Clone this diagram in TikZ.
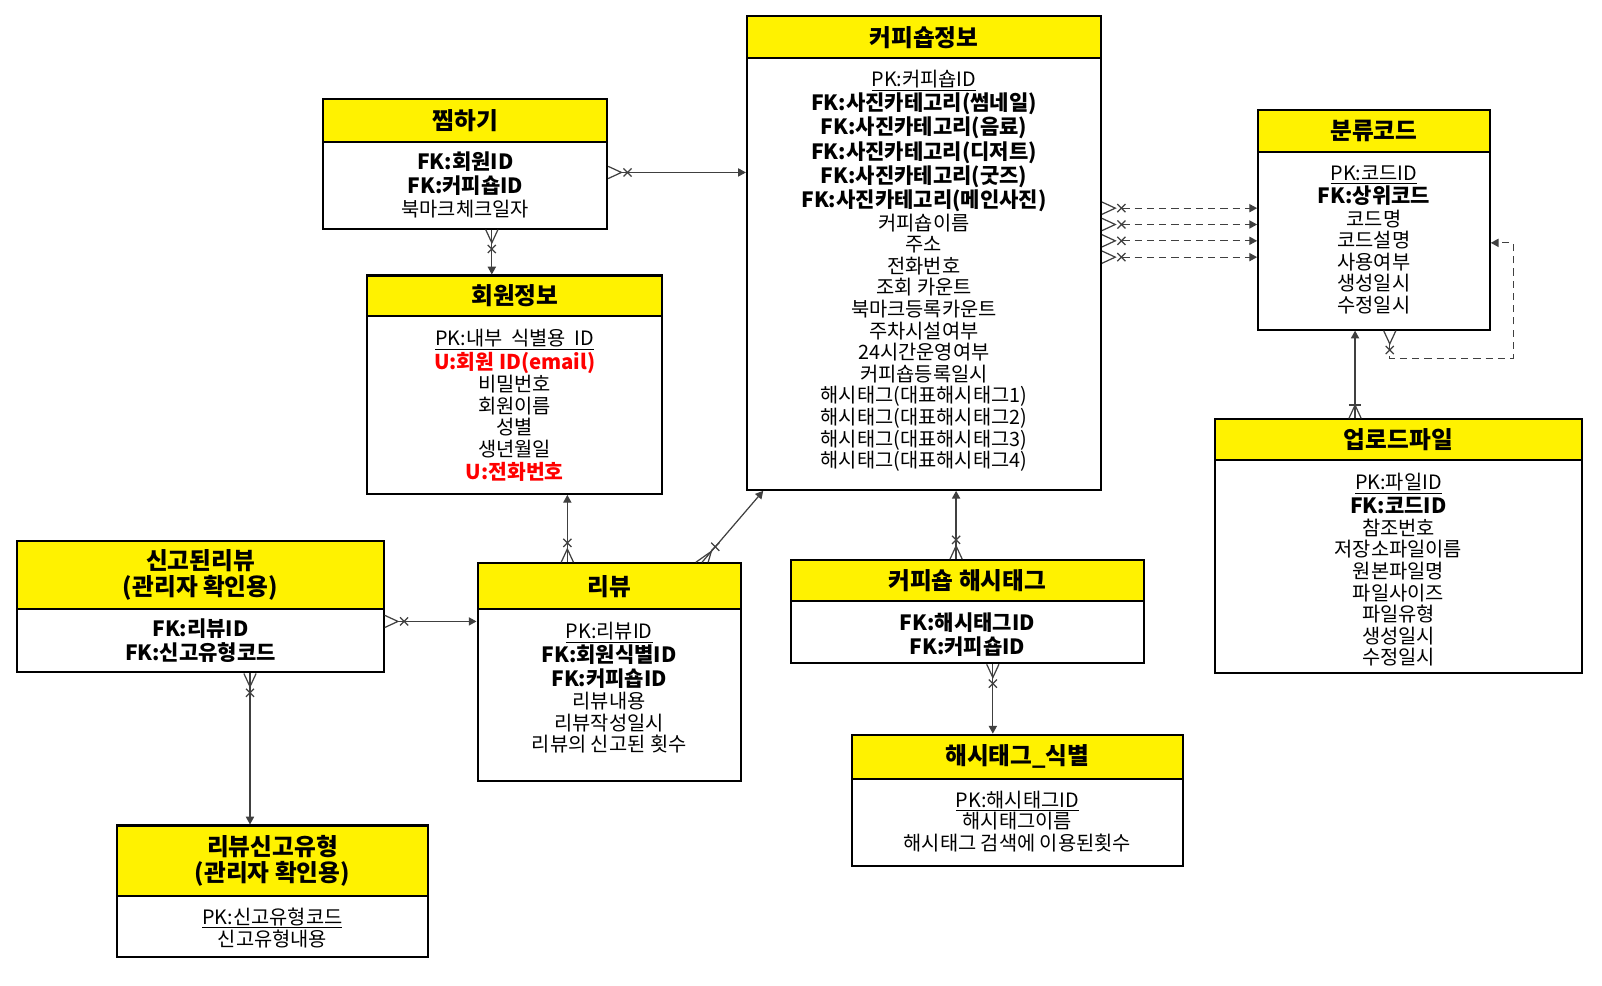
\documentclass[tikz,border=0pt]{standalone}
\usepackage{fontspec}
\setmainfont{Noto Sans CJK KR}
\usetikzlibrary{arrows.meta,calc,fit}
\setlength{\lineskiplimit}{-20pt}
\newcommand\fk[1]{{\bfseries\fontsize{10.3pt}{10.5pt}\selectfont #1}}
\newcommand\ured[1]{{\color{red}\bfseries\fontsize{10pt}{10.5pt}\selectfont #1}}
\newcommand\pk[1]{\setbox0\hbox{#1}\rlap{\rule[-1.9pt]{\wd0}{0.5pt}}\box0}
\tikzset{
 x=0.5pt, y=-0.5pt,
 hdr/.style={draw=black, line width=1pt, fill=yellow, inner sep=0pt},
 htext/.style={inner sep=0pt, align=center, font=\bfseries\fontsize{11.6pt}{12.5pt}\selectfont},
 tbody/.style={draw=black, line width=1pt, fill=white, inner sep=0pt},
 btext/.style={inner sep=0pt, anchor=north, align=center, font=\fontsize{9.7pt}{10.55pt}\selectfont},
 conn/.style={draw=black!75, line width=0.6pt},
 arr/.style={-{Triangle[length=3.8pt,width=4pt]}},
 dsh/.style={dash pattern=on 3.5pt off 2.5pt},
}
\newcommand\erprongs[2]{%
 \draw[conn] ($(#1)!3pt!90:(#2)$) -- ($(#1)!6.5pt!(#2)$) -- ($(#1)!3pt!-90:(#2)$);}
\newcommand\erfootx[2]{%
 \erprongs{#1}{#2}%
 \coordinate (ermk) at ($(#1)!9.5pt!(#2)$);
 \draw[conn] ($(ermk)!2.8pt!45:(#2)$) -- ($(ermk)!2.8pt!-135:(#2)$)
   ($(ermk)!2.8pt!-45:(#2)$) -- ($(ermk)!2.8pt!135:(#2)$);}
\newcommand\erfootbar[2]{%
 \erprongs{#1}{#2}%
 \coordinate (ermk) at ($(#1)!6.5pt!(#2)$);
 \draw[conn] ($(ermk)!3pt!90:(#2)$) -- ($(ermk)!3pt!-90:(#2)$);}
\begin{document}
\setlength{\lineskiplimit}{-20pt}%
\begin{tikzpicture}
\fill[white] (0,0) rectangle (1570,966);
\useasboundingbox (0,0) rectangle (1570,966);

% 찜하기
\node[hdr, fit={(317,97) (595,139)}] (zzimH) {};
\node[htext] (zzimN) at (zzimH.center) {찜하기};
\node[tbody, fit={(317,139) (595,224)}] (zzimB) {};
\node[btext] (zzimT) at ($(zzimB.north)+(0,10)$) {\fk{FK:회원ID}\\[1.3pt]\fk{FK:커피숍ID}\\[0.7pt]북마크체크일자};

% 회원정보
\node[hdr, fit={(360,270) (649,310)}] (memH) {};
\node[htext] (memN) at (memH.center) {회원정보};
\node[tbody, fit={(360,310) (649,484)}] (memB) {};
\node[btext] (memT) at ($(memB.north)+(0,13.5)$) {\pk{PK:내부\hspace{0.45em}식별용\hspace{0.45em}ID}\\[1pt]\ured{U:회원 ID(email)}\\[0.3pt]비밀번호\\회원이름\\성별\\생년월일\\[1pt]\ured{U:전화번호}};

% 커피숍정보
\node[hdr, fit={(732,16) (1079,57)}] (cafeH) {};
\node[htext] (cafeN) at (cafeH.center) {커피숍정보};
\node[tbody, fit={(732,57) (1079,480)}] (cafeB) {};
\node[btext] (cafeT) at ($(cafeB.north)+(0,12.5)$) {\pk{PK:커피숍ID}\\[1.1pt]\fk{FK:사진카테고리(썸네일)}\\[1.35pt]\fk{FK:사진카테고리(음료)}\\[1.35pt]\fk{FK:사진카테고리(디저트)}\\[1.35pt]\fk{FK:사진카테고리(굿즈)}\\[1.35pt]\fk{FK:사진카테고리(메인사진)}\\[0.6pt]커피숍이름\\주소\\전화번호\\조회 카운트\\북마크등록카운트\\주차시설여부\\24시간운영여부\\커피숍등록일시\\해시태그(대표해시태그1)\\해시태그(대표해시태그2)\\[0.3pt]해시태그(대표해시태그3)\\해시태그(대표해시태그4)};

% 분류코드
\node[hdr, fit={(1233,108) (1460,149)}] (codeH) {};
\node[htext] (codeN) at (codeH.center) {분류코드};
\node[tbody, fit={(1233,149) (1460,323)}] (codeB) {};
\node[btext] (codeT) at ($(codeB.north)+(0,14)$) {\pk{PK:코드ID}\\[1pt]\fk{FK:상위코드}\\[0.3pt]코드명\\코드설명\\사용여부\\생성일시\\수정일시};

% 업로드파일
\node[hdr, fit={(1191,411) (1550,451)}] (fileH) {};
\node[htext] (fileN) at (fileH.center) {업로드파일};
\node[tbody, fit={(1191,451) (1550,660)}] (fileB) {};
\node[btext] (fileT) at ($(fileB.north)+(0,13.5)$) {\pk{PK:파일ID}\\[1pt]\fk{FK:코드ID}\\[0.3pt]참조번호\\저장소파일이름\\원본파일명\\파일사이즈\\파일유형\\생성일시\\수정일시};

% 신고된리뷰
\node[hdr, fit={(17,530) (376,597)}] (rrH) {};
\node[htext] (rrN) at (rrH.center) {신고된리뷰\\(관리자 확인용)};
\node[tbody, fit={(17,597) (376,659)}] (rrB) {};
\node[btext] (rrT) at ($(rrB.north)+(0,10)$) {\fk{FK:리뷰ID}\\[1.2pt]\fk{FK:신고유형코드}};

% 리뷰
\node[hdr, fit={(468,552) (726,597)}] (revH) {};
\node[htext] (revN) at (revH.center) {리뷰};
\node[tbody, fit={(468,597) (726,765)}] (revB) {};
\node[btext] (revT) at ($(revB.north)+(0,13.5)$) {\pk{PK:리뷰ID}\\[1pt]\fk{FK:회원식별ID}\\[1.2pt]\fk{FK:커피숍ID}\\[0.5pt]리뷰내용\\리뷰작성일시\\리뷰의 신고된 횟수};

% 커피숍 해시태그
\node[hdr, fit={(775,549) (1121,589)}] (chtH) {};
\node[htext] (chtN) at (chtH.center) {커피숍 해시태그};
\node[tbody, fit={(775,589) (1121,650)}] (chtB) {};
\node[btext] (chtT) at ($(chtB.north)+(0,12)$) {\fk{FK:해시태그ID}\\[1.2pt]\fk{FK:커피숍ID}};

% 해시태그_식별
\node[hdr, fit={(835,720) (1159,763)}] (htH) {};
\node[htext] (htN) at (htH.center) {해시태그\_식별};
\node[tbody, fit={(835,763) (1159,849)}] (htB) {};
\node[btext] (htT) at ($(htB.north)+(0,12.5)$) {\pk{PK:해시태그ID}\\해시태그이름\\해시태그 검색에 이용된횟수};

% 리뷰신고유형
\node[hdr, fit={(115,809) (419,878)}] (rtH) {};
\node[htext] (rtN) at (rtH.center) {리뷰신고유형\\(관리자 확인용)};
\node[tbody, fit={(115,878) (419,938)}] (rtB) {};
\node[btext] (rtT) at ($(rtB.north)+(0,12.5)$) {\pk{PK:신고유형코드}\\신고유형내용};

% ---- connectors ----
% 찜하기 -> 커피숍정보
\coordinate (a1) at (zzimB.east |- 0,169);
\coordinate (a2) at (cafeB.west |- 0,169);
\erfootx{a1}{a2}
\draw[conn,arr] ($(a1)!6.5pt!(a2)$) -- (a2);
% 찜하기 -> 회원정보
\coordinate (b1) at (zzimB.south -| 482,0);
\coordinate (b2) at (memH.north -| 482,0);
\erfootx{b1}{b2}
\draw[conn,arr] (b1) -- (b2);
% 리뷰 -> 회원정보
\coordinate (c1) at (revH.north -| 556,0);
\coordinate (c2) at (memB.south -| 556,0);
\erfootx{c1}{c2}
\draw[conn,arr] (c1) -- (c2);
% 리뷰 -> 커피숍정보 (diagonal)
\coordinate (d1) at (revH.north -| 688,0);
\coordinate (d2) at (cafeB.south -| 748,0);
\draw[conn] ($(d1)+(-6,0)$) -- ($(d1)!7pt!(d2)$) -- ($(d1)+(6,0)$);
\coordinate (dmk) at ($(d1)!10pt!(d2)$);
\draw[conn] ($(dmk)+(-4,-4)$) -- ($(dmk)+(4,4)$) ($(dmk)+(-4,4)$) -- ($(dmk)+(4,-4)$);
\draw[conn,arr] (d1) -- (d2);
% 신고된리뷰 -> 리뷰
\coordinate (e1) at (rrB.east |- 0,609);
\coordinate (e2) at (revB.west |- 0,609);
\erfootx{e1}{e2}
\draw[conn,arr] ($(e1)!6.5pt!(e2)$) -- (e2);
% 신고된리뷰 -> 리뷰신고유형
\coordinate (f1) at (rrB.south -| 245,0);
\coordinate (f2) at (rtH.north -| 245,0);
\erfootx{f1}{f2}
\draw[conn,arr] (f1) -- (f2);
% 커피숍 해시태그 -> 커피숍정보
\coordinate (g1) at (chtH.north -| 937,0);
\coordinate (g2) at (cafeB.south -| 937,0);
\erfootx{g1}{g2}
\draw[conn,arr] (g1) -- (g2);
% 커피숍 해시태그 -> 해시태그_식별
\coordinate (h1) at (chtB.south -| 973,0);
\coordinate (h2) at (htH.north -| 973,0);
\erfootx{h1}{h2}
\draw[conn,arr] (h1) -- (h2);
% 커피숍정보 -> 분류코드 (4 dashed)
\foreach \yy [count=\i] in {204,220,236,252}{
  \coordinate (i1\i) at (cafeB.east |- 0,\yy);
  \coordinate (i2\i) at (codeB.west |- 0,\yy);
  \erfootx{i1\i}{i2\i}
  \draw[conn,dsh,arr] ($(i1\i)!10pt!(i2\i)$) -- (i2\i);
}
% 분류코드 self relation
\coordinate (s1) at (codeB.south -| 1362,0);
\coordinate (s1d) at ($(s1)+(0,27)$);
\coordinate (s2) at (codeB.east |- 0,238);
\erfootx{s1}{s1d}
\draw[conn,dsh,arr] ($(s1)!6.5pt!(s1d)$) -- (s1d) -| ($(s2)+(22,0)$) -- (s2);
% 업로드파일 -> 분류코드
\coordinate (k1) at (fileH.north -| 1328,0);
\coordinate (k2) at (codeB.south -| 1328,0);
\erfootbar{k1}{k2}
\draw[conn,arr] (k1) -- (k2);
\end{tikzpicture}
\end{document}
